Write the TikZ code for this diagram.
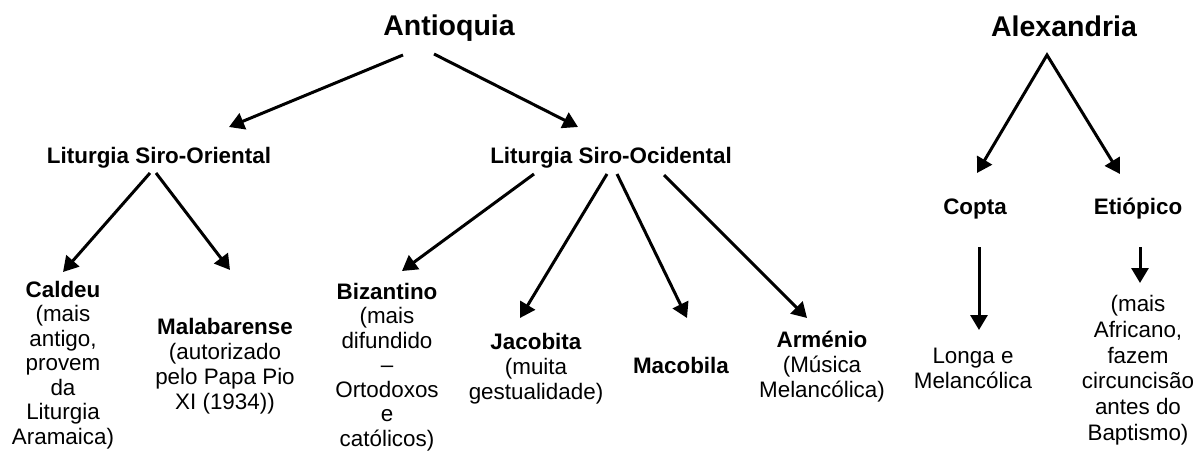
\documentclass[tikz,border=0pt]{standalone}
\usepackage{fontspec}
\setmainfont{Liberation Sans}
\usetikzlibrary{arrows.meta}
\begin{document}
\begin{tikzpicture}[x=1pt,y=-1pt,
  arr/.style={-{Triangle[length=15pt,width=17pt]}, line width=3pt},
  title/.style={font=\fontsize{28.5}{34}\selectfont\bfseries, inner sep=0pt, anchor=base},
  lab/.style={font=\fontsize{22.4}{25}\selectfont\bfseries, inner sep=0pt, anchor=base},
  desc/.style={font=\fontsize{22.4}{#1}\selectfont, inner sep=0pt, anchor=north, align=center},
  desc/.default=25
]
\useasboundingbox (0,0) rectangle (1197,453);
% titles
\node[title] (ant) at (449,35) {Antioquia};
\node[title] (alx) at (1064,36) {Alexandria};
% second level
\node[lab] (ori) at (159,163) {Liturgia Siro-Oriental};
\node[lab] (oci) at (611,163) {Liturgia Siro-Ocidental};
\node[lab] (cop) at (975,214) {Copta};
\node[lab] (eti) at (1138,214) {Etiópico};
% leaves
\node[desc=24.5] (cal) at (63,281) {\textbf{Caldeu}\\(mais\\antigo,\\provem\\da\\Liturgia\\Aramaica)};
\node[desc] (mal) at (225,318) {\textbf{Malabarense}\\(autorizado\\pelo Papa Pio\\XI (1934))};
\node[desc=24.5] (biz) at (387,283) {\textbf{Bizantino}\\(mais\\difundido\\–\\Ortodoxos\\e\\católicos)};
\node[desc] (jac) at (536,333) {\textbf{Jacobita}\\(muita\\gestualidade)};
\node[desc] (mac) at (681,357) {\textbf{Macobila}};
\node[desc] (arm) at (822,331) {\textbf{Arménio}\\(Música\\Melancólica)};
\node[desc] (lon) at (973,348) {Longa e\\Melancólica};
\node[desc=25.8] (afr) at (1138,295) {(mais\\Africano,\\fazem\\circuncisão\\antes do\\Baptismo)};
% connector end points
\coordinate (antL) at (403,55);  \coordinate (oriT) at (229,127);
\coordinate (antR) at (434,54);  \coordinate (ociT) at (578,127);
\coordinate (oriL) at (150,173); \coordinate (calT) at (63,272);
\coordinate (oriR) at (156,173); \coordinate (malT) at (230,270);
\coordinate (oci1) at (534,174); \coordinate (bizT) at (402,271);
\coordinate (oci2) at (607,174); \coordinate (jacT) at (520,318);
\coordinate (oci3) at (617,174); \coordinate (macT) at (687,318);
\coordinate (oci4) at (664,175); \coordinate (armT) at (807,318);
\coordinate (alxA) at (1047,55); \coordinate (copT) at (977,173); \coordinate (etiT) at (1120,174);
\coordinate (copB) at (979,247); \coordinate (lonT) at (979,330);
\coordinate (etiB) at (1140,247); \coordinate (afrT) at (1140,283);
% connectors
\draw[arr] (antL) -- (oriT);
\draw[arr] (antR) -- (ociT);
\draw[arr] (oriL) -- (calT);
\draw[arr] (oriR) -- (malT);
\draw[arr] (oci1) -- (bizT);
\draw[arr] (oci2) -- (jacT);
\draw[arr] (oci3) -- (macT);
\draw[arr] (oci4) -- (armT);
\draw[line width=3pt, {Triangle[length=15pt,width=17pt]}-{Triangle[length=15pt,width=17pt]}, miter limit=20] (copT) -- (alxA) -- (etiT);
\draw[arr] (copB) -- (lonT);
\draw[arr] (etiB) -- (afrT);
\end{tikzpicture}
\end{document}
